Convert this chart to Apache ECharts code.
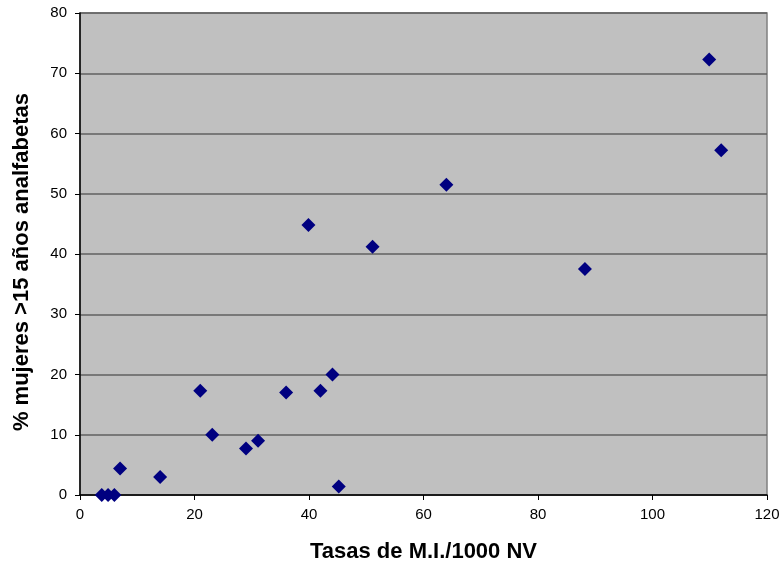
<!DOCTYPE html>
<html><head><meta charset="utf-8">
<script src="https://cdn.jsdelivr.net/npm/echarts@6/dist/echarts.min.js"></script>
<style>html,body{margin:0;padding:0;background:#fff}#c{width:782px;height:567px}</style>
</head><body><div id="c"></div>
<script>
var tasasMI = [109.9, 112.0, 64.0, 39.9, 51.1, 88.2, 44.1, 21.0, 36.0, 42.0, 23.1, 31.1, 29.0, 7.0, 14.0, 45.2, 3.8, 4.9, 6.0];
var mujeresAnalf = [72.3, 57.2, 51.5, 44.8, 41.2, 37.5, 20.0, 17.3, 17.0, 17.3, 10.0, 9.0, 7.7, 4.4, 3.0, 1.4, 0, 0, 0];
var xTitle = 'Tasas de M.I./1000 NV';
var yTitle = '% mujeres >15 años analfabetas';
var points = tasasMI.map(function(x, i){ return [x, mujeresAnalf[i]]; });
var chart = echarts.init(document.getElementById('c'));
chart.setOption({
  animation: false,
  backgroundColor: '#ffffff',
  grid: {left: 80, right: 15, top: 13, bottom: 72, outerBoundsMode: 'none', containLabel: false,
         show: true, backgroundColor: '#c0c0c0', borderColor: '#808080', borderWidth: 1.5},
  xAxis: {
    type: 'value', min: 0, max: 120, interval: 20,
    name: xTitle, nameLocation: 'middle', nameGap: 46,
    nameTextStyle: {fontFamily: 'Liberation Sans', fontWeight: 'bold', fontSize: 22, color: '#000'},
    axisLine: {show: true, lineStyle: {color: '#000', width: 1.5}},
    axisTick: {show: true, length: 5, lineStyle: {color: '#000'}},
    axisLabel: {fontFamily: 'Liberation Sans', fontSize: 15, color: '#000', margin: 12},
    splitLine: {show: false}
  },
  yAxis: {
    type: 'value', min: 0, max: 80, interval: 10,
    name: yTitle, nameLocation: 'middle', nameGap: 47, nameRotate: 90,
    nameTextStyle: {fontFamily: 'Liberation Sans', fontWeight: 'bold', fontSize: 22, color: '#000', padding: [0, 16, 0, 0]},
    axisLine: {show: true, lineStyle: {color: '#000', width: 1.5}},
    axisTick: {show: true, length: 5, lineStyle: {color: '#000'}},
    axisLabel: {fontFamily: 'Liberation Sans', fontSize: 15, color: '#000', margin: 13},
    splitLine: {show: true, lineStyle: {color: '#606060', width: 1.5}}
  },
  series: [{
    type: 'scatter', symbol: 'diamond', symbolSize: 14,
    itemStyle: {color: '#000080', opacity: 1},
    data: points
  }]
});
</script></body></html>
